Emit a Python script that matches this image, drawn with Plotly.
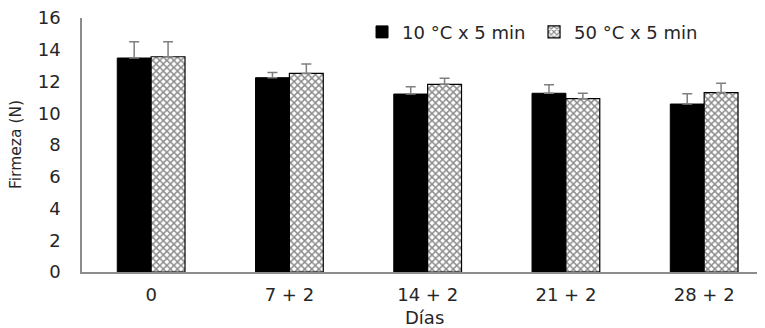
import plotly.graph_objects as go

categories = ["0", "7 + 2", "14 + 2", "21 + 2", "28 + 2"]
firmeza_10 = [13.48, 12.24, 11.21, 11.26, 10.58]
error_10 = [1.02, 0.33, 0.46, 0.54, 0.65]
firmeza_50 = [13.56, 12.51, 11.82, 10.92, 11.30]
error_50 = [0.94, 0.60, 0.38, 0.34, 0.59]
names = ["10 °C x 5 min", "50 °C x 5 min"]
yticks = [0, 2, 4, 6, 8, 10, 12, 14, 16]
x_title = "Días"
y_title = "Firmeza (N)"

FONT = "DejaVu Sans, Verdana, sans-serif"
TXT = "#262626"
ERR = "#7f7f7f"

fig = go.Figure()
fig.add_trace(go.Bar(
    x=categories, y=firmeza_10, name=names[0],
    marker=dict(color="black", line=dict(color="black", width=1)),
    error_y=dict(type="data", symmetric=False, array=error_10,
                 arrayminus=[0] * len(error_10), color=ERR, thickness=1.5, width=5),
))
fig.add_trace(go.Bar(
    x=categories, y=firmeza_50, name=names[1],
    marker=dict(color="white", line=dict(color="black", width=1.2),
                pattern=dict(shape="x", fgcolor="#1a1a1a", bgcolor="white",
                             size=5, solidity=0.5)),
    error_y=dict(type="data", symmetric=False, array=error_50,
                 arrayminus=[0] * len(error_50), color=ERR, thickness=1.5, width=5),
))

# page body has an 8px default margin, so the figure is 8px smaller
fig.update_layout(
    width=757, height=320,
    margin=dict(l=74, r=0, t=10, b=56, autoexpand=False),
    paper_bgcolor="white", plot_bgcolor="white",
    barmode="group", bargap=0.51, bargroupgap=0,
    font=dict(family=FONT, color=TXT, size=18),
    showlegend=True,
    legend=dict(orientation="h", x=0.41, y=1.017, xanchor="left", yanchor="top",
                font=dict(size=18, family=FONT, color=TXT),
                bgcolor="rgba(0,0,0,0)", itemwidth=30, traceorder="normal",
                entrywidth=127, entrywidthmode="pixels"),
    xaxis=dict(type="category", range=[-0.5, 4.44], automargin=False,
               showline=True, linecolor="#8c8c8c", linewidth=1.5,
               ticks="", showgrid=False, zeroline=False,
               tickfont=dict(size=18, family=FONT, color=TXT),
               ticklabelstandoff=6, ticklabeloverflow="allow"),
    yaxis=dict(range=[0, 16], tickvals=yticks, ticktext=[str(v) for v in yticks],
               automargin=False,
               showline=True, linecolor="#8c8c8c", linewidth=1.5,
               ticks="", showgrid=False, zeroline=False,
               tickfont=dict(size=18, family=FONT, color=TXT),
               ticklabelstandoff=16, ticklabeloverflow="allow"),
    annotations=[
        dict(text=x_title, xref="paper", yref="paper", x=(424 - 82) / 683, y=-(317 - 272) / 254,
             xanchor="center", yanchor="middle", showarrow=False,
             font=dict(size=18, family=FONT, color=TXT)),
        dict(text=y_title, xref="paper", yref="paper", x=-(82 - 16) / 683, y=0.5,
             xanchor="center", yanchor="middle", showarrow=False, textangle=-90,
             font=dict(size=15.5, family=FONT, color=TXT)),
    ],
)

fig.write_html("out.html")
